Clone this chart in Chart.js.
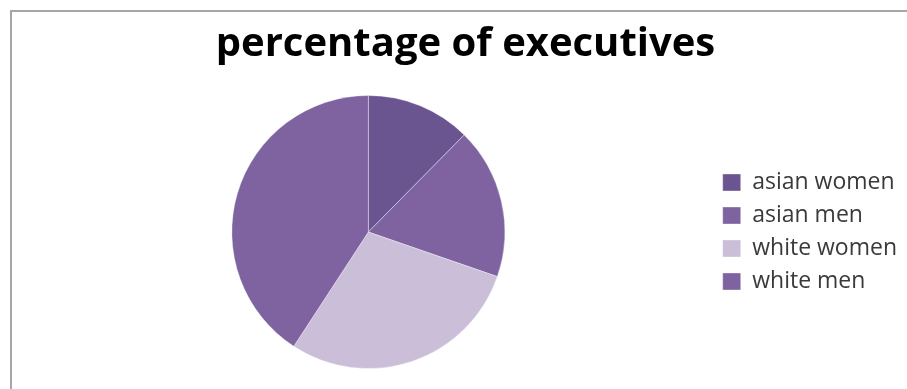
<!DOCTYPE html>
<html>
<head>
<meta charset="utf-8">
<script src="https://cdn.jsdelivr.net/npm/chart.js@4/dist/chart.umd.min.js"></script>
<style>
  body { margin: 0; background: #fff; }
  #wrap { position: relative; width: 907px; height: 389px; }
  #frame { position: absolute; left: 10px; top: 10px; right: 0; bottom: 0;
           border-left: 2px solid #a6a6a6; border-top: 2px solid #a6a6a6; }
  #pie { position: absolute; left: 0; top: 0; }
</style>
</head>
<body>
<div id="wrap">
  <div id="frame"></div>
  <canvas id="pie" width="907" height="389"></canvas>
</div>
<script>
// groups and their share of executives (%)
var groups = ["asian women", "asian men", "white women", "white men"];
var shares = [12.4, 17.9, 28.9, 40.8];
var sliceColors = ["#6b5590", "#7f63a1", "#cabed9", "#7f63a1"];

var ctx = document.getElementById("pie").getContext("2d");

var pieChart = new Chart(ctx, {
  type: "pie",
  data: {
    labels: groups,
    datasets: [{
      data: shares,
      backgroundColor: sliceColors,
      borderColor: "rgba(255,255,255,0.35)",
      borderWidth: 1
    }]
  },
  options: {
    responsive: false,
    animation: false,
    layout: { padding: { top: 12, bottom: 20, left: 24, right: 0 } },
    plugins: {
      title: {
        display: true,
        text: "percentage of executives",
        color: "#000",
        font: { family: "Open Sans", size: 40, weight: "bold", lineHeight: 1.2 },
        padding: { top: 9, bottom: 26 }
      },
      legend: {
        position: "right",
        fullSize: false, // keep the legend beside the pie, below the title
        labels: {
          color: "#3a3a3a",
          font: { family: "Open Sans", size: 23 },
          boxWidth: 18,
          boxHeight: 17,
          padding: 10
        }
      },
      tooltip: { enabled: false }
    }
  }
});
</script>
</body>
</html>
